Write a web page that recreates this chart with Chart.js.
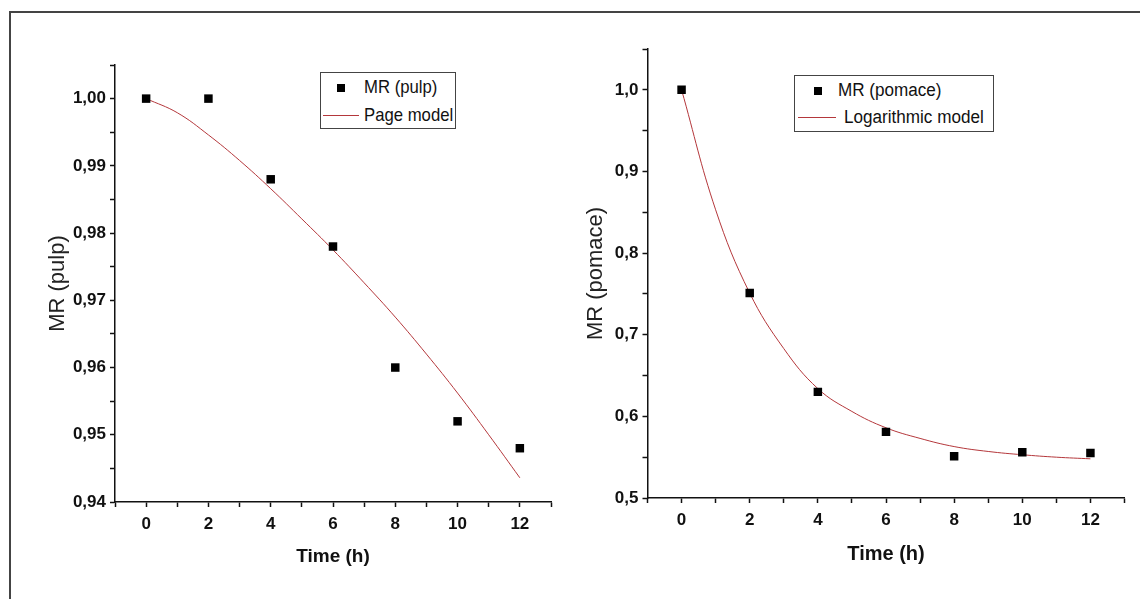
<!DOCTYPE html>
<html>
<head>
<meta charset="utf-8">
<script src="https://cdn.jsdelivr.net/npm/chart.js@4.4.1/dist/chart.umd.min.js"></script>
<style>
  body { margin: 0; background: #fff; font-family: "Liberation Sans", Arial, sans-serif; }
  #page { position: relative; width: 1140px; height: 599px; overflow: hidden; }
  #frame { position: absolute; left: 9px; top: 11px; width: 1140px; height: 600px;
           border-left: 2px solid #444; border-top: 2px solid #444; }
  canvas { position: absolute; top: 0; }
  .legend { position: absolute; border: 1px solid #444; background: #fff; }
  .legend .mark { position: absolute; width: 8px; height: 8px; background: #000; }
  .legend .line { position: absolute; height: 0; border-top: 1px solid #b4373b; }
  .legend .txt { position: absolute; line-height: 22px; color: #111; white-space: nowrap; transform-origin: 0 50%; }
  .legend.l .txt { font-size: 19px; transform: scaleX(0.88); }
  .legend.r .txt { font-size: 18px; transform: scaleX(0.95); }
</style>
</head>
<body>
<div id="page">
  <div id="frame"></div>
  <canvas id="pulpChart" width="570" height="599" style="left:0"></canvas>
  <canvas id="pomaceChart" width="570" height="599" style="left:570px"></canvas>

  <div class="legend l" style="left:320px;top:72px;width:134px;height:55px">
    <div class="mark" style="left:16px;top:11px"></div>
    <div class="txt" id="lgPulp1" style="left:43px;top:3px"></div>
    <div class="line" style="left:2px;top:42px;width:36px"></div>
    <div class="txt" id="lgPulp2" style="left:43px;top:31px"></div>
  </div>
  <div class="legend r" style="left:794px;top:75px;width:198px;height:55px">
    <div class="mark" style="left:19px;top:11px"></div>
    <div class="txt" id="lgPom1" style="left:43px;top:3px"></div>
    <div class="line" style="left:3px;top:41px;width:38px"></div>
    <div class="txt" id="lgPom2" style="left:49px;top:30px"></div>
  </div>
</div>
<script>
// Measured points
const timeH = [0, 2, 4, 6, 8, 10, 12];
const mrPulp = [1.000, 1.000, 0.988, 0.978, 0.960, 0.952, 0.948];
const mrPomace = [1.000, 0.751, 0.630, 0.581, 0.551, 0.556, 0.555];

// Fitted curves, every hour
const fitTime = [0, 1, 2, 3, 4, 5, 6, 7, 8, 9, 10, 11, 12];
const pageFit = [1.000, 0.9979, 0.9946, 0.9908, 0.9866, 0.9821, 0.9775, 0.9726, 0.9675, 0.9620, 0.9562, 0.9500, 0.9436];
const logFit = [1.000, 0.853, 0.751, 0.683, 0.634, 0.606, 0.586, 0.573, 0.563, 0.557, 0.553, 0.550, 0.548];

const xTicksShown = [0, 2, 4, 6, 8, 10, 12];
const legendPulp = ['MR (pulp)', 'Page model'];
const legendPomace = ['MR (pomace)', 'Logarithmic model'];

const FONT = '"Liberation Sans", Arial, sans-serif';
const fitColor = '#b4373b';

function pts(xs, ys) {
    return xs.map((x, i) => ({ x: x, y: ys[i] }));
}

function commaLabel(v, digits, every) {
    const n = Math.round(v * 1000);
    if (n % every !== 0) return '';
    return v.toFixed(digits).replace('.', ',');
}

function makeChart(id, opts) {
    const ctx = document.getElementById(id).getContext('2d');
    return new Chart(ctx, {
        type: 'scatter',
        data: {
            datasets: [
                {
                    label: opts.labels[0],
                    data: pts(timeH, opts.points),
                    pointStyle: 'rect',
                    pointRadius: 6,
                    backgroundColor: '#000',
                    borderColor: '#000',
                    borderWidth: 0,
                    showLine: false
                },
                {
                    label: opts.labels[1],
                    data: pts(fitTime, opts.fit),
                    showLine: true,
                    pointRadius: 0,
                    borderColor: fitColor,
                    borderWidth: 1,
                    tension: 0.4,
                    fill: false
                }
            ]
        },
        options: {
            responsive: false,
            animation: false,
            devicePixelRatio: 1,
            layout: { padding: opts.padding },
            plugins: { legend: { display: false }, tooltip: { enabled: false } },
            scales: {
                x: {
                    type: 'linear',
                    min: -1,
                    max: 13,
                    afterFit: s => { s.height = opts.xHeight; },
                    ticks: {
                        stepSize: 1,
                        autoSkip: false,
                        maxRotation: 0,
                        padding: 7,
                        color: '#111',
                        font: { family: FONT, size: 17, weight: 'bold' },
                        callback: v => xTicksShown.includes(v) ? String(v) : ''
                    },
                    grid: { drawOnChartArea: false, drawTicks: true, tickLength: 5, tickColor: '#111', tickWidth: 1.5 },
                    border: { color: '#111', width: 1.5 },
                    title: {
                        display: true,
                        text: 'Time (h)',
                        color: '#111',
                        padding: 0,
                        font: { family: FONT, size: opts.xTitleSize, weight: 'bold', lineHeight: 1.2 }
                    }
                },
                y: {
                    type: 'linear',
                    min: opts.yMin,
                    max: opts.yMax,
                    afterFit: s => { s.width = opts.yWidth; },
                    ticks: {
                        stepSize: opts.yStep,
                        autoSkip: false,
                        padding: opts.yPad,
                        color: '#111',
                        font: { family: FONT, size: 17, weight: 'bold' },
                        callback: v => commaLabel(v, opts.yDigits, opts.yEvery)
                    },
                    grid: { drawOnChartArea: false, drawTicks: true, tickLength: 5, tickColor: '#111', tickWidth: 1.5 },
                    border: { color: '#111', width: 1.5 },
                    title: {
                        display: true,
                        text: opts.yTitle,
                        color: '#222',
                        padding: 0,
                        font: { family: FONT, size: 22, lineHeight: 1.2 }
                    }
                }
            }
        }
    });
}

makeChart('pulpChart', {
    points: mrPulp,
    fit: pageFit,
    labels: legendPulp,
    yTitle: 'MR (pulp)',
    yMin: 0.94, yMax: 1.005, yStep: 0.005, yDigits: 2, yEvery: 10,
    yWidth: 70, yPad: 4,
    xHeight: 66, xTitleSize: 19,
    padding: { left: 45, right: 19, top: 65, bottom: 31 }
});

makeChart('pomaceChart', {
    points: mrPomace,
    fit: logFit,
    labels: legendPomace,
    yTitle: 'MR (pomace)',
    yMin: 0.5, yMax: 1.05, yStep: 0.05, yDigits: 1, yEvery: 100,
    yWidth: 64.5, yPad: 4,
    xHeight: 68, xTitleSize: 20,
    padding: { left: 13, right: 15.5, top: 49, bottom: 33 }
});

document.getElementById('lgPulp1').textContent = legendPulp[0];
document.getElementById('lgPulp2').textContent = legendPulp[1];
document.getElementById('lgPom1').textContent = legendPomace[0];
document.getElementById('lgPom2').textContent = legendPomace[1];
</script>
</body>
</html>
